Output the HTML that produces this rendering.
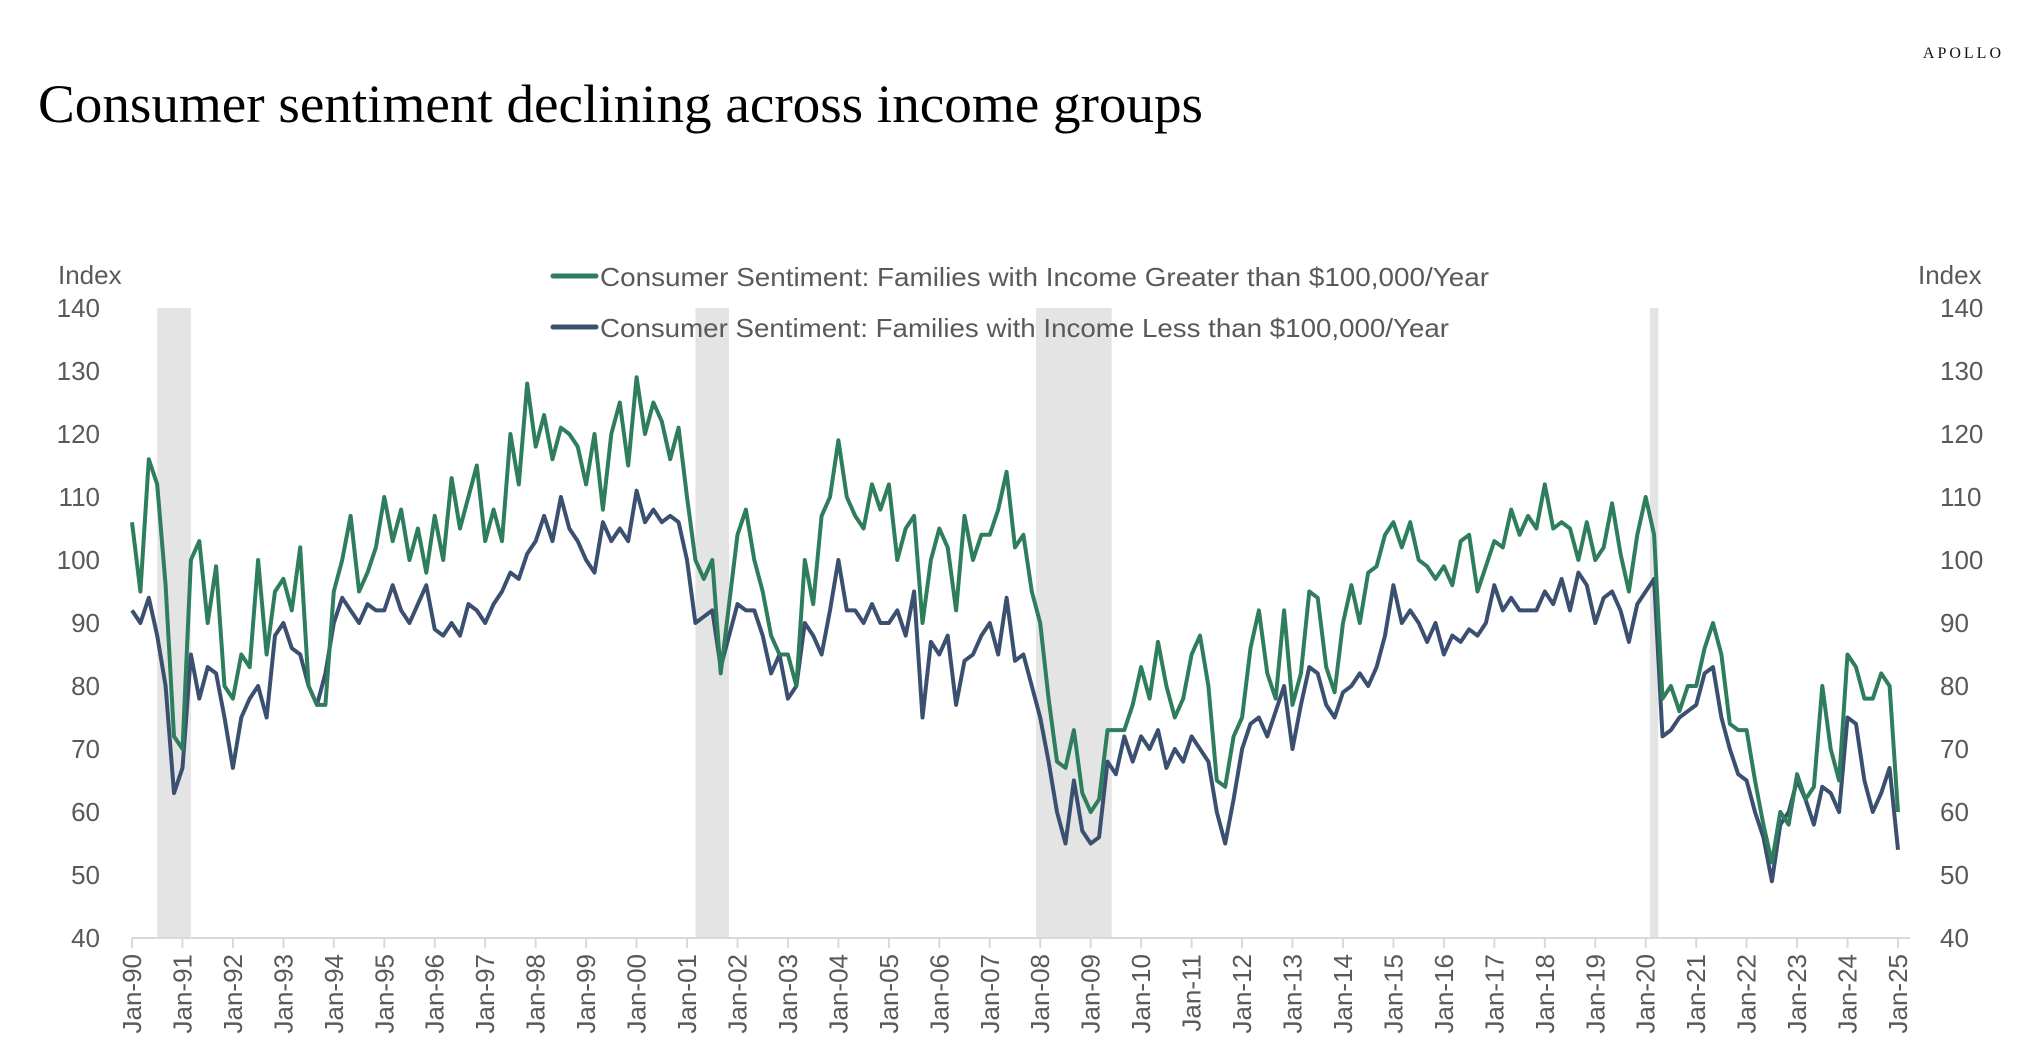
<!DOCTYPE html>
<html><head><meta charset="utf-8"><style>
html,body{margin:0;padding:0;background:#fff;}
svg{display:block;}
</style></head><body>
<svg id="chart" width="2028" height="1064" viewBox="0 0 2028 1064" xmlns="http://www.w3.org/2000/svg">
<text x="2004" y="58" text-anchor="end" font-family="Liberation Serif, serif" font-size="16" letter-spacing="3" fill="#111">APOLLO</text>
<text x="38" y="122" font-family="Liberation Serif, serif" font-size="54" fill="#000" textLength="1165" lengthAdjust="spacingAndGlyphs">Consumer sentiment declining across income groups</text>
<g id="recessions"></g>
<g id="axes" font-family="Liberation Sans, sans-serif" fill="#595959"></g>
<g id="series"></g>
<g font-family="Liberation Sans, sans-serif" font-size="26" fill="#595959">
<line x1="553" y1="276" x2="596" y2="276" stroke="#2e7d5c" stroke-width="5" stroke-linecap="round"/>
<text x="600" y="286" textLength="889" lengthAdjust="spacingAndGlyphs">Consumer Sentiment: Families with Income Greater than $100,000/Year</text>
<line x1="553" y1="327" x2="596" y2="327" stroke="#3b5070" stroke-width="5" stroke-linecap="round"/>
<text x="600" y="337" textLength="849" lengthAdjust="spacingAndGlyphs">Consumer Sentiment: Families with Income Less than $100,000/Year</text>
</g>
</svg>
<script>
// bimonthly observations (Jan, Mar, May, Jul, Sep, Nov) from Jan-1990, final point Jan-2025
const highIncome = [
106,95,116,112,96,72, 70,100,103,90,99,80, 78,85,83,100,85,95, 97,92,102,80,77,77,
95,100,107,95,98,102, 110,103,108,100,105,98, 107,100,113,105,110,115, 103,108,103,120,112,128,
118,123,116,121,120,118, 112,120,108,120,125,115, 129,120,125,122,116,121, 110,100,97,100,82,93,
104,108,100,95,88,85, 85,80,100,93,107,110, 119,110,107,105,112,108, 112,100,105,107,90,100,
105,102,92,107,100,104, 104,108,114,102,104,95, 90,78,68,67,73,63, 60,62,73,73,73,77,
83,78,87,80,75,78, 85,88,80,65,64,72, 75,86,92,82,78,92, 77,82,95,94,83,79,
90,96,90,98,99,104, 106,102,106,100,99,97, 99,96,103,104,95,99, 103,102,108,104,107,105,
112,105,106,105,100,106, 100,102,109,101,95,104, 110,104,78,80,76,80, 80,86,90,85,74,73,
73,65,58,52,60,58, 66,62,64,80,70,65, 85,83,78,78,82,80, 60];
const lowIncome = [
92,90,94,88,80,63, 67,85,78,83,82,75, 67,75,78,80,75,88, 90,86,85,80,77,82,
90,94,92,90,93,92, 92,96,92,90,93,96, 89,88,90,88,93,92, 90,93,95,98,97,101,
103,107,103,110,105,103, 100,98,106,103,105,103, 111,106,108,106,107,106, 100,90,91,92,83,88,
93,92,92,88,82,85, 78,80,90,88,85,92, 100,92,92,90,93,90, 90,92,88,95,75,87,
85,88,77,84,85,88, 90,85,94,84,85,80, 75,68,60,55,65,57, 55,56,68,66,72,68,
72,70,73,67,70,68, 72,70,68,60,55,62, 70,74,75,72,76,80, 70,77,83,82,77,75,
79,80,82,80,83,88, 96,90,92,90,87,90, 85,88,87,89,88,90, 96,92,94,92,92,92,
95,93,97,92,98,96, 90,94,95,92,87,93, 95,97,72,73,75,76, 77,82,83,75,70,66,
65,60,56,49,58,60, 65,62,58,64,63,60, 75,74,65,60,63,67, 54];
const yTicks = [40,50,60,70,80,90,100,110,120,130,140];
const xTickLabels = ['Jan-90','Jan-91','Jan-92','Jan-93','Jan-94','Jan-95','Jan-96','Jan-97','Jan-98','Jan-99','Jan-00','Jan-01','Jan-02','Jan-03','Jan-04','Jan-05','Jan-06','Jan-07','Jan-08','Jan-09','Jan-10','Jan-11','Jan-12','Jan-13','Jan-14','Jan-15','Jan-16','Jan-17','Jan-18','Jan-19','Jan-20','Jan-21','Jan-22','Jan-23','Jan-24','Jan-25'];
const recessionStarts = [6, 134, 215, 361]; // months since Jan-90
const recessionEnds = [14, 142, 233, 363];

const NS='http://www.w3.org/2000/svg';
const X0=132, X1=1898, YT=308, YB=938, XEND=1910;
const xMonth = m => X0 + (X1-X0)*m/420;
const yVal = v => YB - (v-40)*(YB-YT)/100;
function mk(tag, attrs, parent){const e=document.createElementNS(NS,tag);for(const k in attrs)e.setAttribute(k,attrs[k]);parent.appendChild(e);return e;}

const rec=document.getElementById('recessions');
recessionStarts.forEach((s,i)=>{
  const r=mk('rect',{x:xMonth(s),y:YT,width:xMonth(recessionEnds[i])-xMonth(s),height:YB-YT,fill:'#e4e4e4'},rec);
  
  
});

const ax=document.getElementById('axes');
const base=mk('line',{x1:X0,y1:YB,x2:XEND,y2:YB,stroke:'#d9d9d9','stroke-width':2},ax);


yTicks.forEach(v=>{
  const l=mk('text',{x:100,y:yVal(v)+9,'text-anchor':'end','font-size':26},ax);
  l.textContent=v;
  
  
  const r=mk('text',{x:1940,y:yVal(v)+9,'font-size':26},ax);
  r.textContent=v;
  
  
});
const il=mk('text',{x:58,y:284,'font-size':26},ax); il.textContent='Index';


const ir=mk('text',{x:1918,y:284,'font-size':26},ax); ir.textContent='Index';


xTickLabels.forEach((t,i)=>{
  const x=xMonth(i*12);
  const tk=mk('line',{x1:x,y1:YB,x2:x,y2:YB+10,stroke:'#d9d9d9','stroke-width':2},ax);
  
  
  const lb=mk('text',{x:0,y:0,'text-anchor':'end','font-size':26,transform:`translate(${x+9},${YB+16}) rotate(-90)`},ax);
  lb.textContent=t;
  
  
});

function pts(arr){return arr.map((v,i)=>xMonth(Math.min(i*2,420)).toFixed(1)+','+yVal(v).toFixed(1)).join(' ');}
const sg=document.getElementById('series');
const pl=mk('polyline',{points:pts(lowIncome),fill:'none',stroke:'#3b5070','stroke-width':4,'stroke-linejoin':'round'},sg);


const ph=mk('polyline',{points:pts(highIncome),fill:'none',stroke:'#2e7d5c','stroke-width':4,'stroke-linejoin':'round'},sg);


</script>
</body></html>
